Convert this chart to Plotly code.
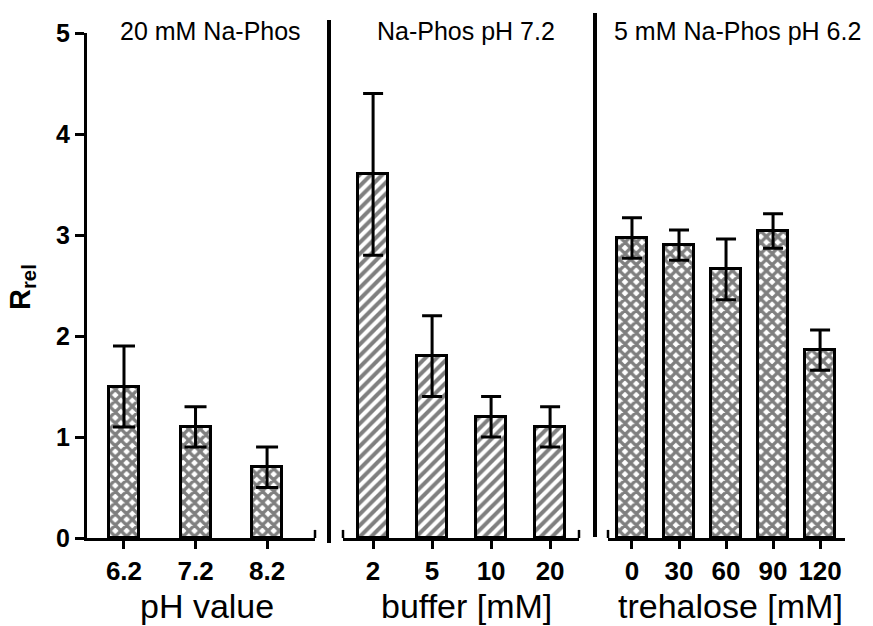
import plotly.graph_objects as go

# --- data -------------------------------------------------------------
ph_labels = ["6.2", "7.2", "8.2"]
ph_vals = [1.5, 1.1, 0.7]
ph_err = [0.4, 0.2, 0.2]

buf_labels = ["2", "5", "10", "20"]
buf_vals = [3.6, 1.8, 1.2, 1.1]
buf_err = [0.8, 0.4, 0.2, 0.2]

tre_labels = ["0", "30", "60", "90", "120"]
tre_vals = [2.97, 2.9, 2.66, 3.04, 1.86]
tre_err = [0.2, 0.15, 0.3, 0.17, 0.2]

panel_titles = ["20 mM Na-Phos", "Na-Phos pH 7.2", "5 mM Na-Phos pH 6.2"]
axis_titles = ["pH value", "buffer [mM]", "trehalose [mM]"]

# --- layout helpers ---------------------------------------------------
W, H = 873, 626
FONT = "Liberation Sans, Arial, sans-serif"


def px(x):
    return x / W


def py(y):
    return 1 - y / H


cross = dict(shape="x", fgcolor="black", bgcolor="white", size=8, solidity=0.65)
diag = dict(shape="/", fgcolor="black", bgcolor="white", size=8, solidity=0.5)


def bar(labels, vals, errs, xa, pattern, width, cap):
    return go.Bar(
        x=labels, y=vals, xaxis=xa, yaxis="y", width=width,
        marker=dict(color="white", line=dict(color="black", width=3), pattern=pattern),
        error_y=dict(type="data", array=errs, color="black", thickness=3, width=cap),
        showlegend=False, hoverinfo="x+y",
    )


fig = go.Figure()
fig.add_trace(bar(ph_labels, ph_vals, ph_err, "x", cross, 0.42, 11))
fig.add_trace(bar(buf_labels, buf_vals, buf_err, "x2", diag, 0.51, 10))
fig.add_trace(bar(tre_labels, tre_vals, tre_err, "x3", cross, 0.64, 10))

tickfont = dict(family=FONT, size=26, color="black", weight="bold")
xcommon = dict(
    type="category", showline=True, linewidth=3, linecolor="black",
    ticks="outside", ticklen=8, tickwidth=2.5, tickcolor="black",
    showgrid=False, zeroline=False, anchor="y", tickfont=tickfont,
    fixedrange=True, automargin=False,
)

fig.update_layout(
    width=W, height=H, autosize=False,
    margin=dict(l=0, r=0, t=0, b=0, pad=0, autoexpand=False),
    paper_bgcolor="white", plot_bgcolor="white",
    bargap=0,
    xaxis=dict(xcommon, domain=[px(87), px(315)], range=[-0.517, 2.67]),
    xaxis2=dict(xcommon, domain=[px(343), px(579)], range=[-0.51, 3.49]),
    xaxis3=dict(xcommon, domain=[px(608), px(845)], range=[-0.51, 4.53]),
    yaxis=dict(
        domain=[py(538), py(33)], range=[0, 5], tickvals=[0, 1, 2, 3, 4, 5],
        showline=True, linewidth=3, linecolor="black",
        ticks="outside", ticklen=9, tickwidth=2.5, tickcolor="black",
        showgrid=False, zeroline=False, anchor="x", automargin=False,
        tickfont=dict(family=FONT, size=25, color="black", weight="bold"),
        fixedrange=True,
    ),
)

# end caps on the x axes
for xa, xpos in [("x", 1), ("x2", 0), ("x2", 1), ("x3", 0)]:
    fig.add_shape(type="line", xref=f"{xa} domain", yref="y",
                  x0=xpos, x1=xpos, y0=-0.08, y1=0.08,
                  line=dict(color="black", width=2.5))

# vertical separators between the panels
fig.add_shape(type="line", xref="paper", yref="paper",
              x0=px(329), x1=px(329), y0=py(543), y1=py(20),
              line=dict(color="black", width=4))
fig.add_shape(type="line", xref="paper", yref="paper",
              x0=px(595), x1=px(595), y0=py(537), y1=py(13),
              line=dict(color="black", width=4))

# panel headings
for text, cx in zip(panel_titles, [210, 466, 737]):
    fig.add_annotation(text=text, xref="paper", yref="paper", x=px(cx), y=py(31),
                       xanchor="center", yanchor="middle", showarrow=False,
                       font=dict(family=FONT, size=25, color="black"))

# x axis titles
for text, cx in zip(axis_titles, [207, 466, 730]):
    fig.add_annotation(text=text, xref="paper", yref="paper", x=px(cx), y=py(606),
                       xanchor="center", yanchor="middle", showarrow=False,
                       font=dict(family=FONT, size=34, color="black"))

# y axis title
fig.add_annotation(text="<b>R<sub>rel</sub></b>", xref="paper", yref="paper",
                   x=px(22), y=py(287), xanchor="center", yanchor="middle",
                   textangle=-90, showarrow=False,
                   font=dict(family=FONT, size=29, color="black"))

fig.write_html("out.html")
